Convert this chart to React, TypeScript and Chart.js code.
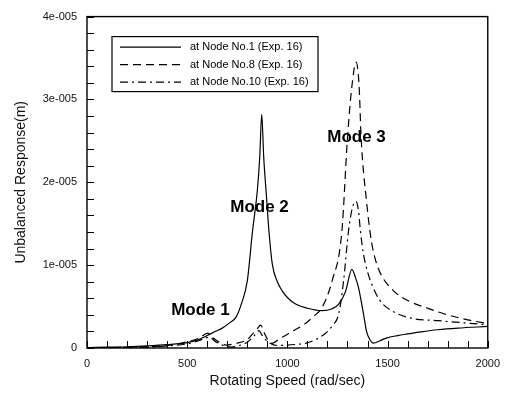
import React, { useEffect, useRef } from 'react';
import { Chart, registerables } from 'chart.js';

Chart.register(...registerables);

// Rotating speed (rad/sec) and response (in units of 1e-6 m)
const node1Speed = [0, 100, 200, 300, 400, 500, 550, 600, 640, 675, 710, 743, 770, 800, 826, 850, 862, 872, 882, 895, 908, 925, 950, 974, 1000, 1041, 1100, 1173, 1220, 1256, 1290, 1322, 1340, 1355, 1380, 1395, 1412, 1429, 1460, 1494, 1550, 1600, 1668, 1750, 1850, 2000];
const node1Resp = [0.05, 0.1, 0.15, 0.25, 0.4, 0.65, 0.95, 1.5, 2.0, 2.4, 3.0, 3.7, 5.3, 8.1, 14.1, 19, 23, 28.2, 23, 18.5, 14.1, 10.1, 8.0, 6.9, 6.1, 5.3, 4.8, 4.5, 4.7, 5.3, 6.8, 9.5, 8.5, 7.3, 4.1, 2.0, 1.0, 0.6, 0.85, 1.2, 1.5, 1.7, 1.95, 2.2, 2.4, 2.6];

const node8Speed = [0, 200, 300, 400, 500, 560, 602, 630, 660, 693, 740, 799, 830, 849, 867, 885, 908, 925, 960, 1007, 1050, 1090, 1130, 1173, 1223, 1272, 1300, 1322, 1343, 1358, 1368, 1395, 1420, 1445, 1471, 1530, 1603, 1700, 1785, 1900, 2000];
const node8Resp = [0.02, 0.08, 0.15, 0.3, 0.75, 1.2, 1.8, 1.2, 0.7, 0.35, 0.55, 1.0, 1.8, 2.3, 2.75, 1.8, 0.8, 0.56, 1.1, 1.75, 2.35, 2.95, 3.8, 4.9, 8.1, 14.1, 25.4, 31.6, 34.5, 31.6, 25.4, 17.7, 12.8, 10.2, 8.7, 6.9, 5.7, 4.8, 4.1, 3.4, 2.95];

const node10Speed = [0, 200, 300, 400, 500, 560, 610, 640, 680, 720, 760, 800, 835, 858, 875, 900, 950, 1000, 1050, 1090, 1140, 1189, 1225, 1256, 1280, 1305, 1325, 1343, 1355, 1365, 1380, 1400, 1421, 1460, 1520, 1618, 1752, 1900, 2000];
const node10Resp = [0.02, 0.05, 0.1, 0.25, 0.5, 0.9, 1.3, 0.8, 0.3, 0.1, 0.3, 0.7, 1.5, 2.1, 1.5, 0.8, 0.3, 0.35, 0.45, 0.56, 1.0, 1.75, 2.7, 4.1, 8.0, 14.1, 17.0, 17.7, 16.5, 14, 11.3, 9.2, 7.7, 5.8, 4.5, 3.6, 3.3, 3.0, 2.8];

const seriesNames = ['at Node No.1 (Exp. 16)', 'at Node No.8 (Exp. 16)', 'at Node No.10 (Exp. 16)'];
const seriesDash = [[], [8, 5], [8, 4, 2, 4]];

const xTickLabels = ['0', '500', '1000', '1500', '2000'];
const yTickLabels = ['0', '1e-005', '2e-005', '3e-005', '4e-005'];

const modeLabels = ['Mode 1', 'Mode 2', 'Mode 3'];
const modeSpeed = [566, 861, 1345];
const modeResp = [4.5, 17.0, 25.4];

const FONT = '"Liberation Sans", Arial, sans-serif';

const toPoints = (xs: number[], ys: number[]) => xs.map((x, i) => ({ x, y: ys[i] * 1e-6 }));

const framePlugin = {
  id: 'frameAndExtras',
  afterDraw(chart: any) {
    const { ctx, chartArea: a, scales } = chart;
    const xs = scales.x;
    const ys = scales.y;
    ctx.save();
    // inward ticks
    ctx.strokeStyle = '#000';
    ctx.lineWidth = 1;
    ctx.beginPath();
    for (let v = 0; v <= 2000; v += 100) {
      const px = Math.round(xs.getPixelForValue(v)) + 0.5;
      ctx.moveTo(px, a.bottom);
      ctx.lineTo(px, a.bottom - 7);
    }
    for (let k = 0; k <= 20; k++) {
      const py = Math.round(ys.getPixelForValue(k * 2e-6)) + 0.5;
      ctx.moveTo(a.left, py);
      ctx.lineTo(a.left + 7, py);
    }
    ctx.stroke();
    // frame
    ctx.lineWidth = 1.4;
    ctx.strokeRect(a.left, a.top, a.right - a.left, a.bottom - a.top);

    // mode labels
    ctx.fillStyle = '#000';
    ctx.font = `bold 17px ${FONT}`;
    ctx.textAlign = 'center';
    ctx.textBaseline = 'middle';
    modeLabels.forEach((t, i) => {
      ctx.fillText(t, xs.getPixelForValue(modeSpeed[i]), ys.getPixelForValue(modeResp[i] * 1e-6));
    });

    // legend box
    const bx = a.left + 25;
    const by = a.top + 20;
    const bw = 206;
    const bh = 55;
    ctx.fillStyle = '#fff';
    ctx.fillRect(bx, by, bw, bh);
    ctx.lineWidth = 1.2;
    ctx.strokeStyle = '#000';
    ctx.strokeRect(bx, by, bw, bh);
    ctx.font = `11px ${FONT}`;
    ctx.textAlign = 'left';
    ctx.textBaseline = 'middle';
    ctx.fillStyle = '#000';
    seriesNames.forEach((name, i) => {
      const yy = by + 10.5 + i * 17.5;
      ctx.beginPath();
      ctx.setLineDash(seriesDash[i]);
      ctx.lineWidth = 1.2;
      ctx.moveTo(bx + 8, yy);
      ctx.lineTo(bx + 69, yy);
      ctx.stroke();
      ctx.setLineDash([]);
      ctx.fillText(name, bx + 78, yy);
    });
    ctx.restore();
  },
};

export default function App() {
  const ref = useRef<HTMLCanvasElement>(null);
  useEffect(() => {
    const datasets = [
      { label: seriesNames[0], data: toPoints(node1Speed, node1Resp) },
      { label: seriesNames[1], data: toPoints(node8Speed, node8Resp) },
      { label: seriesNames[2], data: toPoints(node10Speed, node10Resp) },
    ].map((d, i) => ({
      ...d,
      borderColor: '#000',
      backgroundColor: '#000',
      borderWidth: 1.2,
      borderDash: seriesDash[i],
      pointRadius: 0,
      fill: false,
      cubicInterpolationMode: 'monotone' as const,
    }));
    const chart = new Chart(ref.current!, {
      type: 'line',
      data: { datasets },
      options: {
        animation: false,
        responsive: false,
        maintainAspectRatio: false,
        layout: { padding: { left: 0, top: 13, right: 19, bottom: 0 } },
        plugins: { legend: { display: false }, tooltip: { enabled: false } },
        scales: {
          x: {
            type: 'linear',
            min: 0,
            max: 2000,
            grid: { display: false, drawTicks: false },
            border: { display: false },
            ticks: {
              stepSize: 500,
              padding: 9,
              color: '#111',
              font: { family: FONT, size: 11 },
              maxRotation: 0,
              callback: (_v: any, i: number) => xTickLabels[i],
            },
            title: {
              display: true,
              text: 'Rotating Speed (rad/sec)',
              color: '#111',
              font: { family: FONT, size: 14 },
              padding: { top: 0, bottom: 6.6 },
            },
            afterFit: (s: any) => { s.height = 48; },
          },
          y: {
            type: 'linear',
            min: 0,
            max: 4e-5,
            grid: { display: false, drawTicks: false },
            border: { display: false },
            ticks: {
              stepSize: 1e-5,
              padding: 10,
              color: '#111',
              font: { family: FONT, size: 11 },
              callback: (_v: any, i: number) => yTickLabels[i],
            },
            title: {
              display: true,
              text: 'Unbalanced Response(m)',
              color: '#111',
              font: { family: FONT, size: 14 },
              padding: { top: 12.6, bottom: 0 },
            },
            afterFit: (s: any) => { s.width = 87; },
          },
        },
      },
      plugins: [framePlugin],
    });
    return () => chart.destroy();
  }, []);
  return (
    <div style={{ position: 'fixed', left: 0, top: 0, width: 509, height: 396, background: '#fff' }}>
      <canvas ref={ref} width={509} height={396} style={{ display: 'block' }} />
    </div>
  );
}
